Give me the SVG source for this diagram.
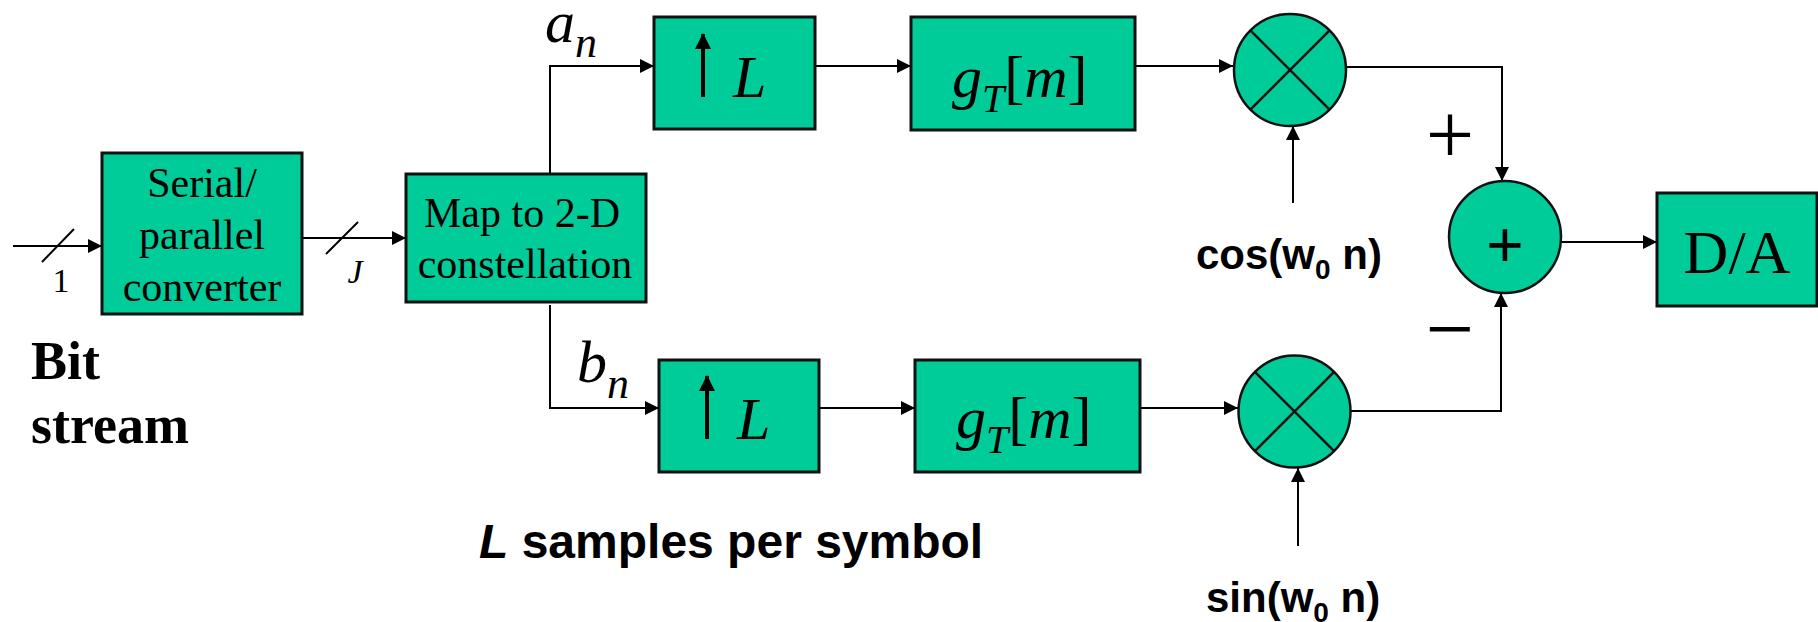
<svg xmlns="http://www.w3.org/2000/svg" width="1818" height="622" viewBox="0 0 1818 622">
<defs>
<style>
.box{fill:#00CC99;stroke:#111;stroke-width:3}
.circ{fill:#00CC99;stroke:#111;stroke-width:2.5}
.x{stroke:#111;stroke-width:2.5}
.ln{fill:none;stroke:#000;stroke-width:2}
.arr{fill:none;stroke:#000;stroke-width:2;marker-end:url(#ah)}
.up{stroke:#000;stroke-width:4;marker-end:url(#ahb)}
.tr{font-family:"Liberation Serif","Times New Roman",serif;fill:#000}
.ti{font-family:"Liberation Serif","Times New Roman",serif;font-style:italic;fill:#000}
.tb{font-family:"Liberation Serif","Times New Roman",serif;font-weight:bold;fill:#000}
.sb{font-family:"Liberation Sans",Arial,sans-serif;font-weight:bold;fill:#000}
</style>
<marker id="ah" viewBox="0 0 14 14" refX="14" refY="7" markerWidth="14" markerHeight="14" markerUnits="userSpaceOnUse" orient="auto"><path d="M0,0 L14,7 L0,14 Z" fill="#000"/></marker>
<marker id="ahb" viewBox="0 0 16 16" refX="15" refY="8" markerWidth="16" markerHeight="16" markerUnits="userSpaceOnUse" orient="auto"><path d="M0,0 L16,8 L0,16 Z" fill="#000"/></marker>
</defs>
<rect width="1818" height="622" fill="#fff"/>

<g id="connectors">
<line class="arr" x1="13" y1="246" x2="102" y2="246"/>
<line class="ln" x1="42" y1="262" x2="74" y2="229"/>
<line class="arr" x1="302" y1="238" x2="406" y2="238"/>
<line class="ln" x1="326" y1="254" x2="358" y2="222"/>
<polyline class="arr" points="550,174 550,66 654,66"/>
<polyline class="arr" points="550,305 550,408 659,408"/>
<line class="arr" x1="815" y1="66" x2="911" y2="66"/>
<line class="arr" x1="1135" y1="66" x2="1233" y2="66"/>
<line class="arr" x1="1293" y1="203" x2="1293" y2="126"/>
<polyline class="arr" points="1346,67 1502,67 1502,181"/>
<line class="arr" x1="819" y1="408" x2="915" y2="408"/>
<line class="arr" x1="1140" y1="408" x2="1238" y2="408"/>
<line class="arr" x1="1298" y1="546" x2="1298" y2="468"/>
<polyline class="arr" points="1351,411 1501,411 1501,293"/>
<line class="arr" x1="1561" y1="242" x2="1657" y2="242"/>
</g>

<g id="serial">
<rect class="box" x="102" y="153" width="200" height="161"/>
<text class="tr" font-size="42" text-anchor="middle"><tspan x="202" y="197">Serial/</tspan><tspan x="202" y="249">parallel</tspan><tspan x="202" y="301">converter</tspan></text>
</g>

<g id="map">
<rect class="box" x="406" y="174" width="240" height="128"/>
<text class="tr" font-size="42" text-anchor="middle"><tspan x="522" y="227">Map to 2-D</tspan><tspan x="525" y="278">constellation</tspan></text>
</g>

<g id="upL1">
<rect class="box" x="654" y="17" width="161" height="112"/>
<line class="up" x1="703" y1="97" x2="703" y2="34"/>
<text class="ti" font-size="60" x="733" y="97">L</text>
</g>

<g id="upL2">
<rect class="box" x="659" y="360" width="160" height="112"/>
<line class="up" x1="707" y1="439" x2="707" y2="376"/>
<text class="ti" font-size="60" x="737" y="439">L</text>
</g>

<g id="gT1">
<rect class="box" x="911" y="17" width="224" height="113"/>
<text class="ti" font-size="60" x="952" y="97">g<tspan font-size="40" dy="15">T</tspan><tspan font-style="normal" dy="-15">[</tspan>m<tspan font-style="normal">]</tspan></text>
</g>

<g id="gT2">
<rect class="box" x="915" y="360" width="225" height="112"/>
<text class="ti" font-size="60" x="956" y="438">g<tspan font-size="40" dy="15">T</tspan><tspan font-style="normal" dy="-15">[</tspan>m<tspan font-style="normal">]</tspan></text>
</g>

<g id="mult1">
<circle class="circ" cx="1290" cy="70" r="56"/>
<line class="x" x1="1250.4" y1="30.4" x2="1329.6" y2="109.6"/>
<line class="x" x1="1329.6" y1="30.4" x2="1250.4" y2="109.6"/>
</g>

<g id="mult2">
<circle class="circ" cx="1294.5" cy="411.5" r="56"/>
<line class="x" x1="1254.9" y1="371.9" x2="1334.1" y2="451.1"/>
<line class="x" x1="1334.1" y1="371.9" x2="1254.9" y2="451.1"/>
</g>

<g id="adder">
<circle class="circ" cx="1505" cy="237" r="56"/>
<text font-family="Liberation Sans, Arial, sans-serif" font-size="64" text-anchor="middle" x="1505" y="267">+</text>
</g>

<g id="da">
<rect class="box" x="1657" y="193" width="160" height="113"/>
<text class="tr" font-size="62" text-anchor="middle" x="1737" y="273">D/A</text>
</g>

<g id="labels">
<text class="tr" font-size="34" text-anchor="middle" x="61" y="292">1</text>
<text class="ti" font-size="34" text-anchor="middle" x="355" y="283">J</text>
<text class="tb" font-size="54" x="31" y="379">Bit</text>
<text class="tb" font-size="54" x="31" y="443">stream</text>
<text class="ti" font-size="60" x="545" y="42">a<tspan font-size="44" dy="15">n</tspan></text>
<text class="ti" font-size="60" x="577" y="382">b<tspan font-size="44" dy="16">n</tspan></text>
<text class="tr" font-size="86" text-anchor="middle" x="1450" y="164">+</text>
<text class="tr" font-size="86" text-anchor="middle" x="1450" y="358">−</text>
<text class="sb" font-size="42" x="1196" y="269">cos(w<tspan font-size="28" dy="10">0</tspan><tspan dy="-10"> n)</tspan></text>
<text class="sb" font-size="42" x="1206" y="612">sin(w<tspan font-size="28" dy="10">0</tspan><tspan dy="-10"> n)</tspan></text>
<text class="sb" font-size="48" x="479" y="558"><tspan font-style="italic">L</tspan> samples per symbol</text>
</g>
</svg>
